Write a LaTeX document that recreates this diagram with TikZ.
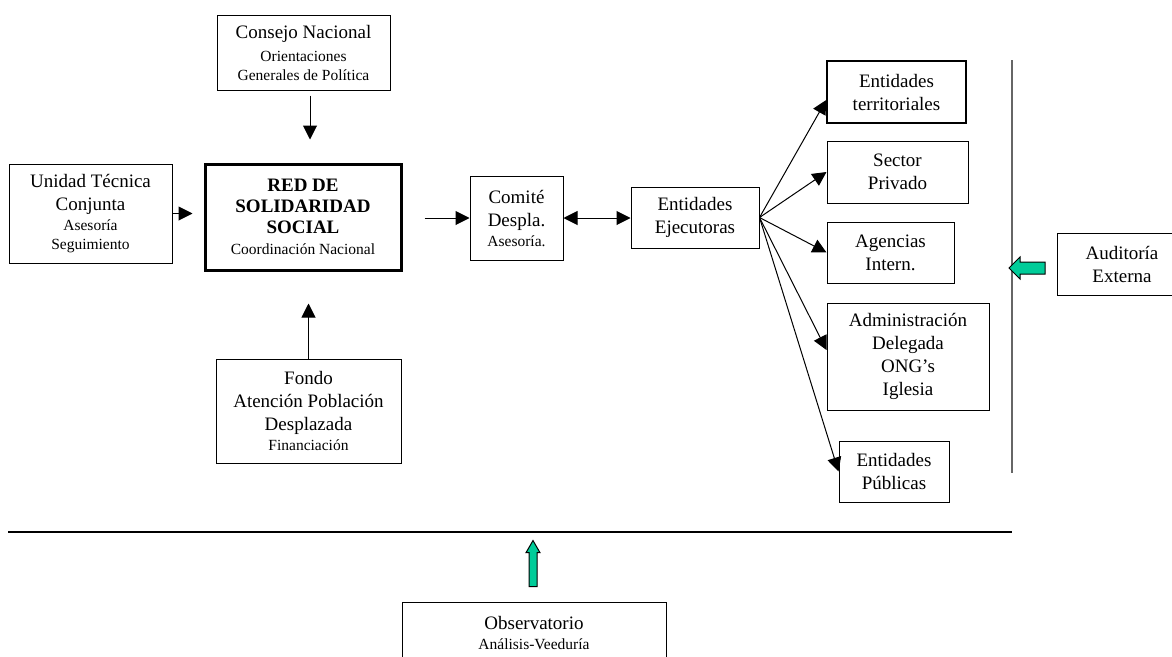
\documentclass[tikz,border=0pt]{standalone}
\usepackage{fontspec}
\setmainfont{Liberation Serif}
\usepackage{xcolor}
\usetikzlibrary{shapes,arrows.meta}
\definecolor{auditgreen}{RGB}{0,204,153}
\newcommand{\maintxt}{\fontsize{19}{23}\selectfont}
\newcommand{\subtxt}{\fontsize{15.5}{19}\selectfont}

\begin{document}
\begin{tikzpicture}[
    x=1pt, y=-1pt,
    box/.style={rectangle, draw, line width=1pt, align=center, inner sep=0pt, font=\maintxt},
    arrow/.style={-{Triangle[length=14pt, width=14pt]}, line width=1pt},
    blockarrow/.style={single arrow, draw, line width=1pt, fill=auditgreen, inner xsep=0pt}
]
    \useasboundingbox (0,0) rectangle (1172,656);

    \node[box, minimum width=173pt, minimum height=75pt] (consejo) at (303.5,52.5) {Consejo Nacional\\{\subtxt Orientaciones}\\[-4pt]{\subtxt Generales de Política}};
    \node[box, minimum width=163pt, minimum height=99pt] (unidad) at (90.5,213.5) {Unidad Técnica\\Conjunta\\[-3pt]{\subtxt Asesoría}\\[-4pt]{\subtxt Seguimiento}};
    \node[box, line width=3pt, minimum width=196pt, minimum height=106pt] (red) at (303,217) {\textbf{RED DE}\\[-2pt]\textbf{SOLIDARIDAD}\\[-2pt]\textbf{SOCIAL}\\[-2pt]{\subtxt Coordinación Nacional}};
    \node[box, minimum width=185pt, minimum height=104pt] (fondo) at (308.5,411) {Fondo\\Atención Población\\Desplazada\\[-3pt]{\subtxt Financiación}};
    \node[box, minimum width=93pt, minimum height=84pt] (comite) at (516.5,218) {Comité\\Despla.\\[-3pt]{\subtxt Asesoría.}};
    \node[box, minimum width=128pt, minimum height=61pt] (ejecutoras) at (695,217.5) {Entidades\\Ejecutoras};

    \node[box, line width=1.5pt, minimum width=139pt, minimum height=62pt] (territoriales) at (896.5,92) {Entidades\\territoriales};
    \node[box, minimum width=141pt, minimum height=62pt] (privado) at (897.5,172) {Sector\\Privado};
    \node[box, minimum width=127pt, minimum height=61pt] (agencias) at (890.5,252.5) {Agencias\\Intern.};
    \node[box, minimum width=162pt, minimum height=107pt] (delegada) at (908,356.5) {Administración\\Delegada\\ONG’s\\Iglesia};
    \node[box, minimum width=110pt, minimum height=61pt] (publicas) at (894,471.5) {Entidades\\Públicas};

    \node[box, minimum width=130pt, minimum height=62pt] (auditoria) at (1122,264) {Auditoría\\Externa};
    \node[box, minimum width=264pt, minimum height=62pt] (observatorio) at (534,633) {Observatorio\\[-3pt]{\subtxt Análisis-Veeduría}};

    % limits of control
    \coordinate (vtop) at (1012,60);
    \coordinate (vbottom) at (1012,473);
    \coordinate (hleft) at (8,532);
    \coordinate (hright) at (1012,532);
    \draw[line width=1.5pt, black!60] (vtop) -- (vbottom);
    \draw[line width=1.5pt] (hleft) -- (hright);

    \draw[arrow, shorten <=5pt, shorten >=23pt] ([xshift=7pt]red.north |- consejo.south) -- ([xshift=7pt]red.north);
    \draw[arrow, shorten >=11pt] (unidad.east) -- (unidad.east -| red.west);
    \draw[arrow, shorten >=32pt] (fondo.north) -- (fondo.north |- red.south);
    \draw[arrow, shorten <=22pt] (red.east |- comite.west) -- (comite.west);
    \draw[{Triangle[length=14pt, width=14pt]}-{Triangle[length=14pt, width=14pt]}, line width=1pt] (comite.east) -- (comite.east -| ejecutoras.west);

    \foreach \target/\dy in {territoriales/-8, privado/0, agencias/0, delegada/6.5, publicas/0}
        \draw[arrow] (ejecutoras.east) -- ([yshift=\dy pt]\target.west);

    \node[blockarrow, rotate=180, inner ysep=5.5pt, single arrow head extend=5pt, minimum height=36pt] (auditarrow) at (1030,268) {};
    \node[blockarrow, rotate=90, inner ysep=3.5pt, single arrow head extend=3pt, single arrow tip angle=60, minimum height=46pt] (obsarrow) at (533,567) {};
\end{tikzpicture}
\end{document}
